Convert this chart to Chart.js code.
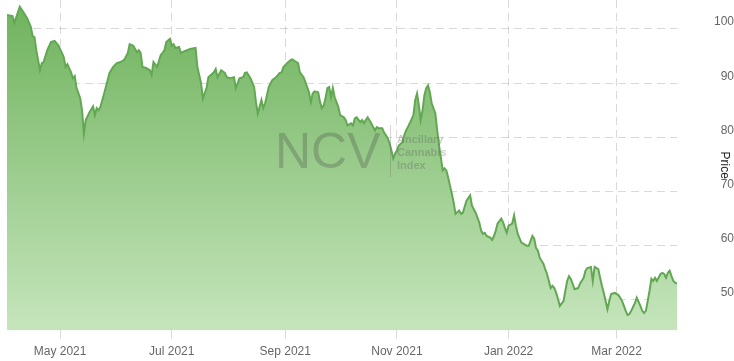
<!DOCTYPE html>
<html>
<head>
<meta charset="utf-8">
<script src="https://cdn.jsdelivr.net/npm/chart.js@4.4.1/dist/chart.umd.min.js"></script>
<style>
  html, body { margin: 0; padding: 0; background: #ffffff; }
  #wrap { position: relative; width: 734px; height: 361px; }
</style>
</head>
<body>
<div id="wrap"><canvas id="c" width="734" height="361"></canvas></div>
<script>
// Day offsets counted from 2021-04-01
const startDate = "2021-04-01";
const days = [1,4,5,7,8,10,12,14,15,16,17,19,20,21,23,25,27,29,31,32,33,34,36,37,38,39,41,42,43,44,46,48,49,50,51,52,54,56,57,59,61,63,65,67,68,70,72,73,74,75,77,79,80,81,83,85,86,87,88,90,91,92,93,95,96,98,101,104,105,107,108,110,111,114,115,116,118,120,121,123,125,126,128,130,131,132,134,136,137,138,140,141,142,144,145,146,148,150,151,152,154,156,157,158,160,161,163,164,166,167,168,169,171,172,173,174,175,176,177,178,179,180,182,183,185,186,187,189,190,191,192,194,195,196,197,198,200,201,202,203,204,206,207,208,209,210,211,212,213,214,215,217,218,219,220,221,223,224,225,226,227,228,229,230,231,232,233,235,236,237,238,239,240,241,242,243,244,245,246,248,249,250,252,254,255,257,259,260,261,262,263,265,266,267,268,269,271,272,273,274,275,277,278,279,280,282,283,285,286,288,289,290,291,292,294,295,296,297,298,299,300,301,302,303,305,306,307,308,309,310,311,313,314,316,317,318,320,321,322,324,325,326,327,328,329,330,331,333,335,336,337,338,339,340,341,342,343,344,345,347,348,349,350,351,352,353,354,355,356,358,359,360,361,362,363,364,365,366,367];
const prices = [102.6,102.4,101.1,103.1,104.1,103.1,102.0,100.4,98.7,98.5,96.1,92.4,93.7,93.9,96.1,97.6,97.8,97.0,95.6,94.8,93.0,93.5,92.0,90.9,91.3,89.1,87.2,85.0,80.7,83.2,84.6,85.7,84.1,85.4,85.0,85.6,88.0,90.6,91.9,93.0,93.7,93.9,94.3,95.6,97.2,96.9,95.7,96.1,95.6,93.0,92.8,92.4,91.5,93.9,93.0,95.2,95.6,96.1,97.6,98.2,96.9,97.2,96.5,96.7,95.6,95.9,96.3,96.5,93.0,90.0,87.2,89.1,91.1,92.0,92.6,91.1,92.4,91.9,91.1,90.9,91.1,89.1,90.9,91.1,91.9,92.0,90.9,89.3,86.5,84.4,86.9,85.4,86.3,89.3,90.0,90.6,91.1,91.9,92.0,93.0,93.7,94.3,94.4,94.1,93.7,92.0,91.1,90.2,88.3,86.5,88.1,88.5,88.3,86.5,85.4,85.9,87.2,89.1,89.3,87.4,89.1,87.4,85.6,84.1,83.7,83.2,82.2,82.6,82.2,83.5,83.7,82.8,83.2,82.6,83.2,83.7,82.6,81.9,81.3,81.9,81.7,81.7,80.9,80.4,79.8,78.9,77.6,76.1,77.0,77.6,78.5,79.1,80.4,81.3,81.9,82.6,84.1,86.9,88.1,85.9,83.2,85.0,87.8,89.1,89.6,88.3,86.3,84.4,81.3,78.5,76.3,73.9,74.3,73.9,72.6,71.1,69.6,68.0,65.9,66.5,65.9,66.1,68.3,69.3,67.4,66.1,64.3,62.8,62.2,62.4,61.8,61.5,61.1,61.8,62.8,64.1,65.0,64.3,63.3,62.4,63.7,64.1,65.6,63.7,62.2,60.6,60.4,60.0,60.0,61.8,61.3,59.6,59.1,57.8,56.7,55.7,54.8,53.5,52.2,52.6,52.2,51.3,50.2,48.9,49.8,51.7,53.5,54.4,53.9,53.0,52.0,52.2,53.0,54.1,55.4,55.9,56.1,53.5,56.1,55.7,54.1,52.6,51.3,49.8,48.3,49.8,51.1,51.3,50.9,50.4,49.8,48.9,48.0,47.2,47.4,48.0,48.7,49.4,50.4,48.9,48.0,47.6,48.0,49.8,51.7,53.9,53.5,54.1,53.5,54.8,55.0,54.8,54.1,55.0,55.4,54.4,53.5,53.2,53.0];
const xTickDays = [30, 91, 153, 214, 275, 334];
const xTickLabels = ["May 2021", "Jul 2021", "Sep 2021", "Nov 2021", "Jan 2022", "Mar 2022"];
const yTickValues = [50, 60, 70, 80, 90, 100];
const yAxisTitle = "Price";
const watermarkBig = "NCV";
const watermarkSmall = ["Ancillary", "Cannabis", "Index"];

const points = days.map((d, i) => ({ x: d, y: prices[i] }));
const FONT = "'Liberation Sans', Arial, sans-serif";

const watermarkPlugin = {
  id: 'watermark',
  afterDatasetsDraw(chart) {
    const a = chart.chartArea;
    const ctx = chart.ctx;
    ctx.save();
    ctx.fillStyle = 'rgba(70,70,70,0.28)';
    ctx.font = '50px ' + FONT;
    ctx.textBaseline = 'alphabetic';
    ctx.textAlign = 'left';
    ctx.fillText(watermarkBig, a.left + 268, a.top + 168);
    ctx.strokeStyle = 'rgba(90,90,90,0.25)';
    ctx.lineWidth = 1;
    ctx.beginPath();
    ctx.moveTo(a.left + 383.5, a.top + 125);
    ctx.lineTo(a.left + 383.5, a.top + 177);
    ctx.stroke();
    ctx.font = 'bold 11px ' + FONT;
    ctx.fillStyle = 'rgba(90,90,90,0.3)';
    watermarkSmall.forEach((t, i) => ctx.fillText(t, a.left + 390, a.top + 143 + i * 13));
    ctx.restore();
  }
};

new Chart(document.getElementById('c'), {
  type: 'line',
  data: {
    datasets: [{
      data: points,
      borderColor: 'rgb(98,168,82)',
      borderWidth: 2,
      pointRadius: 0,
      tension: 0,
      fill: 'start',
      backgroundColor: (context) => {
        const { chart } = context;
        const a = chart.chartArea;
        if (!a) return 'rgba(140,200,120,0.8)';
        const g = chart.ctx.createLinearGradient(0, a.top, 0, a.bottom);
        g.addColorStop(0, 'rgb(110,178,92)');
        g.addColorStop(1, 'rgb(198,229,188)');
        return g;
      }
    }]
  },
  options: {
    responsive: false,
    animation: false,
    devicePixelRatio: 1,
    layout: { padding: { left: 7, right: 0, top: 0, bottom: 0 } },
    plugins: { legend: { display: false }, tooltip: { enabled: false } },
    scales: {
      x: {
        type: 'linear',
        min: 1,
        max: 367,
        afterBuildTicks: (scale) => { scale.ticks = xTickDays.map(v => ({ value: v })); },
        afterFit: (scale) => { scale.height = 30.5; scale.paddingLeft = 0; scale.paddingRight = 0; },
        ticks: {
          autoSkip: false,
          maxRotation: 0,
          padding: 6,
          color: '#666',
          font: { family: FONT, size: 12 },
          callback: (v) => { const i = xTickDays.indexOf(v); return i >= 0 ? xTickLabels[i] : ''; }
        },
        grid: { color: 'rgba(0,0,0,0.15)', lineWidth: 1, drawTicks: true, tickLength: 8, tickColor: 'rgba(0,0,0,0.15)' },
        border: { display: false, dash: [8, 5] }
      },
      y: {
        position: 'right',
        min: 44.37,
        max: 105.35,
        afterBuildTicks: (scale) => { scale.ticks = yTickValues.map(v => ({ value: v })); },
        afterFit: (scale) => { scale.width = 57; scale.paddingTop = 0; scale.paddingBottom = 0; },
        ticks: {
          padding: 5,
          crossAlign: 'far',
          labelOffset: -7,
          color: '#666',
          font: { family: FONT, size: 12 }
        },
        grid: { color: 'rgba(0,0,0,0.15)', lineWidth: 1, drawTicks: false, tickLength: 0 },
        border: { display: false, dash: [8, 5] },
        title: {
          display: true,
          text: yAxisTitle,
          color: '#222',
          font: { family: FONT, size: 12 },
          padding: { top: 2, bottom: 15 }
        }
      }
    }
  },
  plugins: [watermarkPlugin]
});
</script>
</body>
</html>
